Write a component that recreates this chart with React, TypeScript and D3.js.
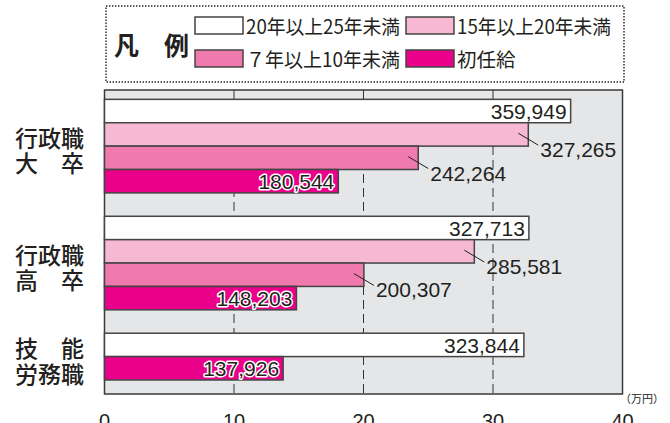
import React from "react";
import * as d3 from "d3";

const categoryLines: string[][] = [
  ["行政職", "大\u3000卒"],
  ["行政職", "高\u3000卒"],
  ["技\u3000能", "労務職"],
];
const seriesNames = ["20年以上25年未満", "15年以上20年未満", "７年以上10年未満", "初任給"];
const values20to25 = [359949, 327713, 323844];
const values15to20: (number | null)[] = [327265, 285581, null];
const values7to10: (number | null)[] = [242264, 200307, null];
const valuesInitial = [180544, 148203, 137926];
const xTicks = [0, 10, 20, 30, 40];
const unitLabel = "（万円）";
const legendTitle = "凡\u3000例";

const seriesColors = ["#ffffff", "#f6b8d2", "#f07aad", "#ea008a"];
const labelModes = ["inside", "leader", "leader", "halo"];

const W = 670;
const H = 423;
const plotLeft = 104.5;
const plotRight = 622.5;
const plotTop = 90;
const plotBottom = 394;
const ink = "#231f20";
const numFont = "'Liberation Sans', Arial, sans-serif";
const jpFont = "'Noto Sans CJK JP', 'Noto Sans', sans-serif";

export default function App() {
  const allSeries = [values20to25, values15to20, values7to10, valuesInitial];
  const x = d3.scaleLinear().domain([0, 40]).range([plotLeft, plotRight]);

  const groups = categoryLines.map((_, gi) =>
    allSeries
      .map((s, si) => ({ si, v: s[gi] }))
      .filter((d) => d.v !== null && d.v !== undefined) as { si: number; v: number }[]
  );
  const startPad = 0.4;
  const endPad = 0.6;
  const totalUnits =
    startPad + endPad + d3.sum(groups, (g) => g.length) + (groups.length - 1);
  const y = d3.scaleLinear().domain([0, totalUnits]).range([plotTop, plotBottom]);

  type Bar = { gi: number; si: number; v: number; y0: number; y1: number };
  const bars: Bar[] = [];
  const groupCenters: number[] = [];
  let u = startPad;
  groups.forEach((g, gi) => {
    const gStart = u;
    g.forEach((d) => {
      bars.push({ gi, si: d.si, v: d.v, y0: y(u), y1: y(u + 1) });
      u += 1;
    });
    groupCenters.push((y(gStart) + y(u)) / 2);
    u += 1;
  });

  const fmt = d3.format(",");

  const legendCols = [195, 406];
  const legendRows = [25.5, 58.5];
  const swW = 48;
  const swH = 17;

  return (
    <svg
      width={W}
      height={H}
      style={{ position: "absolute", left: 0, top: 0, background: "#ffffff" }}
    >
      {/* legend */}
      <rect
        x={106}
        y={6}
        width={518}
        height={76}
        fill="none"
        stroke={ink}
        strokeWidth={1.4}
        strokeDasharray="1.4 1.6"
      />
      <text
        x={114}
        y={44}
        fontFamily={jpFont}
        fontSize={25}
        fontWeight={700}
        fill={ink}
        dominantBaseline="central"
      >
        {legendTitle}
      </text>
      {seriesNames.map((name, i) => {
        const cx = legendCols[i % 2];
        const cy = legendRows[Math.floor(i / 2)];
        const long = name.length > 4;
        return (
          <g key={name}>
            <rect
              x={cx}
              y={cy - swH / 2}
              width={swW}
              height={swH}
              fill={seriesColors[i]}
              stroke="#444"
              strokeWidth={1.5}
            />
            <text
              x={cx + swW + 3}
              y={cy}
              fontFamily={jpFont}
              fontSize={19.5}
              fill={ink}
              dominantBaseline="central"
              {...(long ? { textLength: 154, lengthAdjust: "spacingAndGlyphs" } : {})}
            >
              {name}
            </text>
          </g>
        );
      })}

      {/* plot background */}
      <rect
        x={plotLeft}
        y={plotTop}
        width={plotRight - plotLeft}
        height={plotBottom - plotTop}
        fill="#e5e6e8"
      />
      {xTicks.slice(1, -1).map((t) => (
        <line
          key={t}
          x1={x(t)}
          x2={x(t)}
          y1={plotTop}
          y2={plotBottom}
          stroke="#333"
          strokeWidth={1}
          strokeDasharray="9 5"
        />
      ))}
      <rect
        x={plotLeft}
        y={plotTop}
        width={plotRight - plotLeft}
        height={plotBottom - plotTop}
        fill="none"
        stroke="#3a3a3a"
        strokeWidth={1.5}
      />

      {/* bars */}
      {bars.map((b, i) => (
        <rect
          key={i}
          x={x(0)}
          y={b.y0}
          width={x(b.v / 10000) - x(0)}
          height={b.y1 - b.y0}
          fill={seriesColors[b.si]}
          stroke="#444"
          strokeWidth={1.5}
        />
      ))}

      {/* value labels */}
      {bars.map((b, i) => {
        const xe = x(b.v / 10000);
        const mode = labelModes[b.si];
        const label = fmt(b.v);
        if (mode === "inside") {
          return (
            <text
              key={i}
              x={xe - 4}
              y={(b.y0 + b.y1) / 2 + 8}
              textAnchor="end"
              fontFamily={numFont}
              fontSize={21}
              fill={ink}
            >
              {label}
            </text>
          );
        }
        if (mode === "halo") {
          return (
            <text
              key={i}
              x={xe - 4}
              y={(b.y0 + b.y1) / 2 + 8}
              textAnchor="end"
              fontFamily={numFont}
              fontSize={21}
              fill={ink}
              stroke="#ffffff"
              strokeWidth={3}
              strokeLinejoin="round"
              style={{ paintOrder: "stroke" }}
            >
              {label}
            </text>
          );
        }
        const h = b.y1 - b.y0;
        return (
          <g key={i}>
            <line
              x1={xe - 10}
              y1={b.y0 + 0.45 * h}
              x2={xe + 10}
              y2={b.y1 - 1}
              stroke={ink}
              strokeWidth={1}
            />
            <text
              x={xe + 12}
              y={b.y1 + 11}
              fontFamily={numFont}
              fontSize={21}
              fill={ink}
            >
              {label}
            </text>
          </g>
        );
      })}

      {/* category labels */}
      {categoryLines.map((lines, gi) => (
        <g key={gi}>
          {lines.map((ln, li) => (
            <text
              key={li}
              x={84}
              y={groupCenters[gi] + (li === 0 ? -9.5 : 16)}
              textAnchor="end"
              dominantBaseline="central"
              fontFamily={jpFont}
              fontSize={23}
              fontWeight={500}
              fill={ink}
            >
              {ln}
            </text>
          ))}
        </g>
      ))}

      {/* x axis tick labels */}
      {xTicks.map((t) => (
        <text
          key={t}
          x={x(t)}
          y={427.5}
          textAnchor="middle"
          fontFamily={numFont}
          fontSize={20}
          fill={ink}
        >
          {t}
        </text>
      ))}
      <text
        x={642}
        y={403}
        textAnchor="middle"
        fontFamily={jpFont}
        fontSize={11}
        fill={ink}
      >
        {unitLabel}
      </text>
    </svg>
  );
}
